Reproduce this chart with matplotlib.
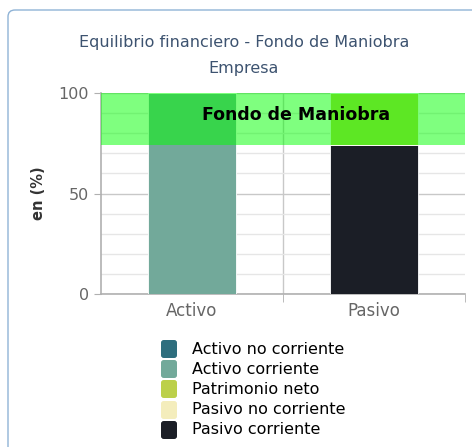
import matplotlib
matplotlib.use("Agg")
import matplotlib.pyplot as plt
from matplotlib.patches import FancyBboxPatch
import numpy as np

categories = ["Activo", "Pasivo"]
series_names = ["Activo no corriente", "Activo corriente", "Patrimonio neto",
                "Pasivo no corriente", "Pasivo corriente"]
activo_no_corriente = [0, 0]
activo_corriente = [100, 0]
patrimonio_neto = [0, 26]
pasivo_no_corriente = [0, 0]
pasivo_corriente = [0, 74]
series_values = [activo_no_corriente, activo_corriente, patrimonio_neto,
                 pasivo_no_corriente, pasivo_corriente]
series_colors = ["#2e6e7e", "#72a99a", "#bcd04a", "#f4edbc", "#1b1e26"]
fondo_range = [74, 100]
fondo_label = "Fondo de Maniobra"

W, H = 472, 447
fig = plt.figure(figsize=(W / 100, H / 100), dpi=100)

# outer rounded frame
frame = FancyBboxPatch((8 / W, (H - 500) / H), 520 / W, 490 / H,
                       boxstyle="round,pad=0,rounding_size=0.015",
                       transform=fig.transFigure, facecolor="none",
                       edgecolor="#8fb3d6", linewidth=1.0, zorder=0)
fig.patches.append(frame)

L, R, T, B = 101, 465, 93, 294
ax = fig.add_axes([L / W, (H - B) / H, (R - L) / W, (B - T) / H])
ax.set_facecolor("none")

x = np.arange(len(categories))
width = 0.485
bottom = np.zeros(len(categories))
# stack last series at bottom
for name, vals, col in reversed(list(zip(series_names, series_values, series_colors))):
    v = np.array(vals, dtype=float)
    ax.bar(x, v, width, bottom=bottom, color=col, edgecolor="white",
           linewidth=0.6, zorder=3)
    bottom += v

ax.axhspan(fondo_range[0], fondo_range[1], color=(0, 1, 0), alpha=0.5,
           linewidth=0, zorder=4)
ax.text(0.57, (fondo_range[0] + fondo_range[1]) / 2 + 2, fondo_label,
        ha="center", va="center", fontsize=12.5, fontweight="bold",
        color="black", zorder=5)

ax.set_xlim(-0.5, 1.5)
ax.set_ylim(0, 100)
ax.set_yticks([0, 50, 100])
ax.set_yticks(np.arange(0, 101, 10), minor=True)
ax.set_xticks(x)
ax.set_xticklabels(categories)
ax.set_xticks([0.5, 1.5], minor=True)

ax.grid(axis="y", which="minor", color="#e6e6e6", linewidth=1.0, zorder=1)
ax.grid(axis="y", which="major", color="#c8c8c8", linewidth=1.0, zorder=1)
ax.axvline(0.5, color="#c8c8c8", linewidth=1.0, zorder=1)

for s in ["top", "right"]:
    ax.spines[s].set_visible(False)
ax.spines["left"].set_color("#b0b0b0")
ax.spines["bottom"].set_color("#b0b0b0")
ax.spines["left"].set_linewidth(1.2)
ax.spines["bottom"].set_linewidth(1.2)

ax.tick_params(axis="y", which="major", length=5, color="#b0b0b0",
               labelsize=11.5, labelcolor="#666666", pad=3.5)
ax.tick_params(axis="y", which="minor", length=0)
ax.tick_params(axis="x", which="major", length=0, labelsize=12,
               labelcolor="#666666", pad=6)
ax.tick_params(axis="x", which="minor", length=6, color="#b0b0b0")

ax.set_ylabel("en (%)", fontsize=10.5, fontweight="bold", color="#333333",
              labelpad=9)

fig.text(244 / W, 1 - 43 / H, "Equilibrio financiero - Fondo de Maniobra",
         ha="center", va="center", fontsize=11.5, color="#3d5370")
fig.text(244 / W, 1 - 69 / H, "Empresa", ha="center", va="center",
         fontsize=11.5, color="#3d5370")

# legend
row_y = [349, 369, 389, 410, 430]
for name, col, yy in zip(series_names, series_colors, row_y):
    p = FancyBboxPatch(((161) / W, 1 - (yy + 9) / H), 16 / W, 18 / H,
                       boxstyle="round,pad=0,rounding_size=0.006",
                       transform=fig.transFigure, facecolor=col,
                       edgecolor="none")
    fig.patches.append(p)
    fig.text(192 / W, 1 - yy / H, name, ha="left", va="center",
             fontsize=11.5, color="black")

fig.savefig("out.png", dpi=100)
